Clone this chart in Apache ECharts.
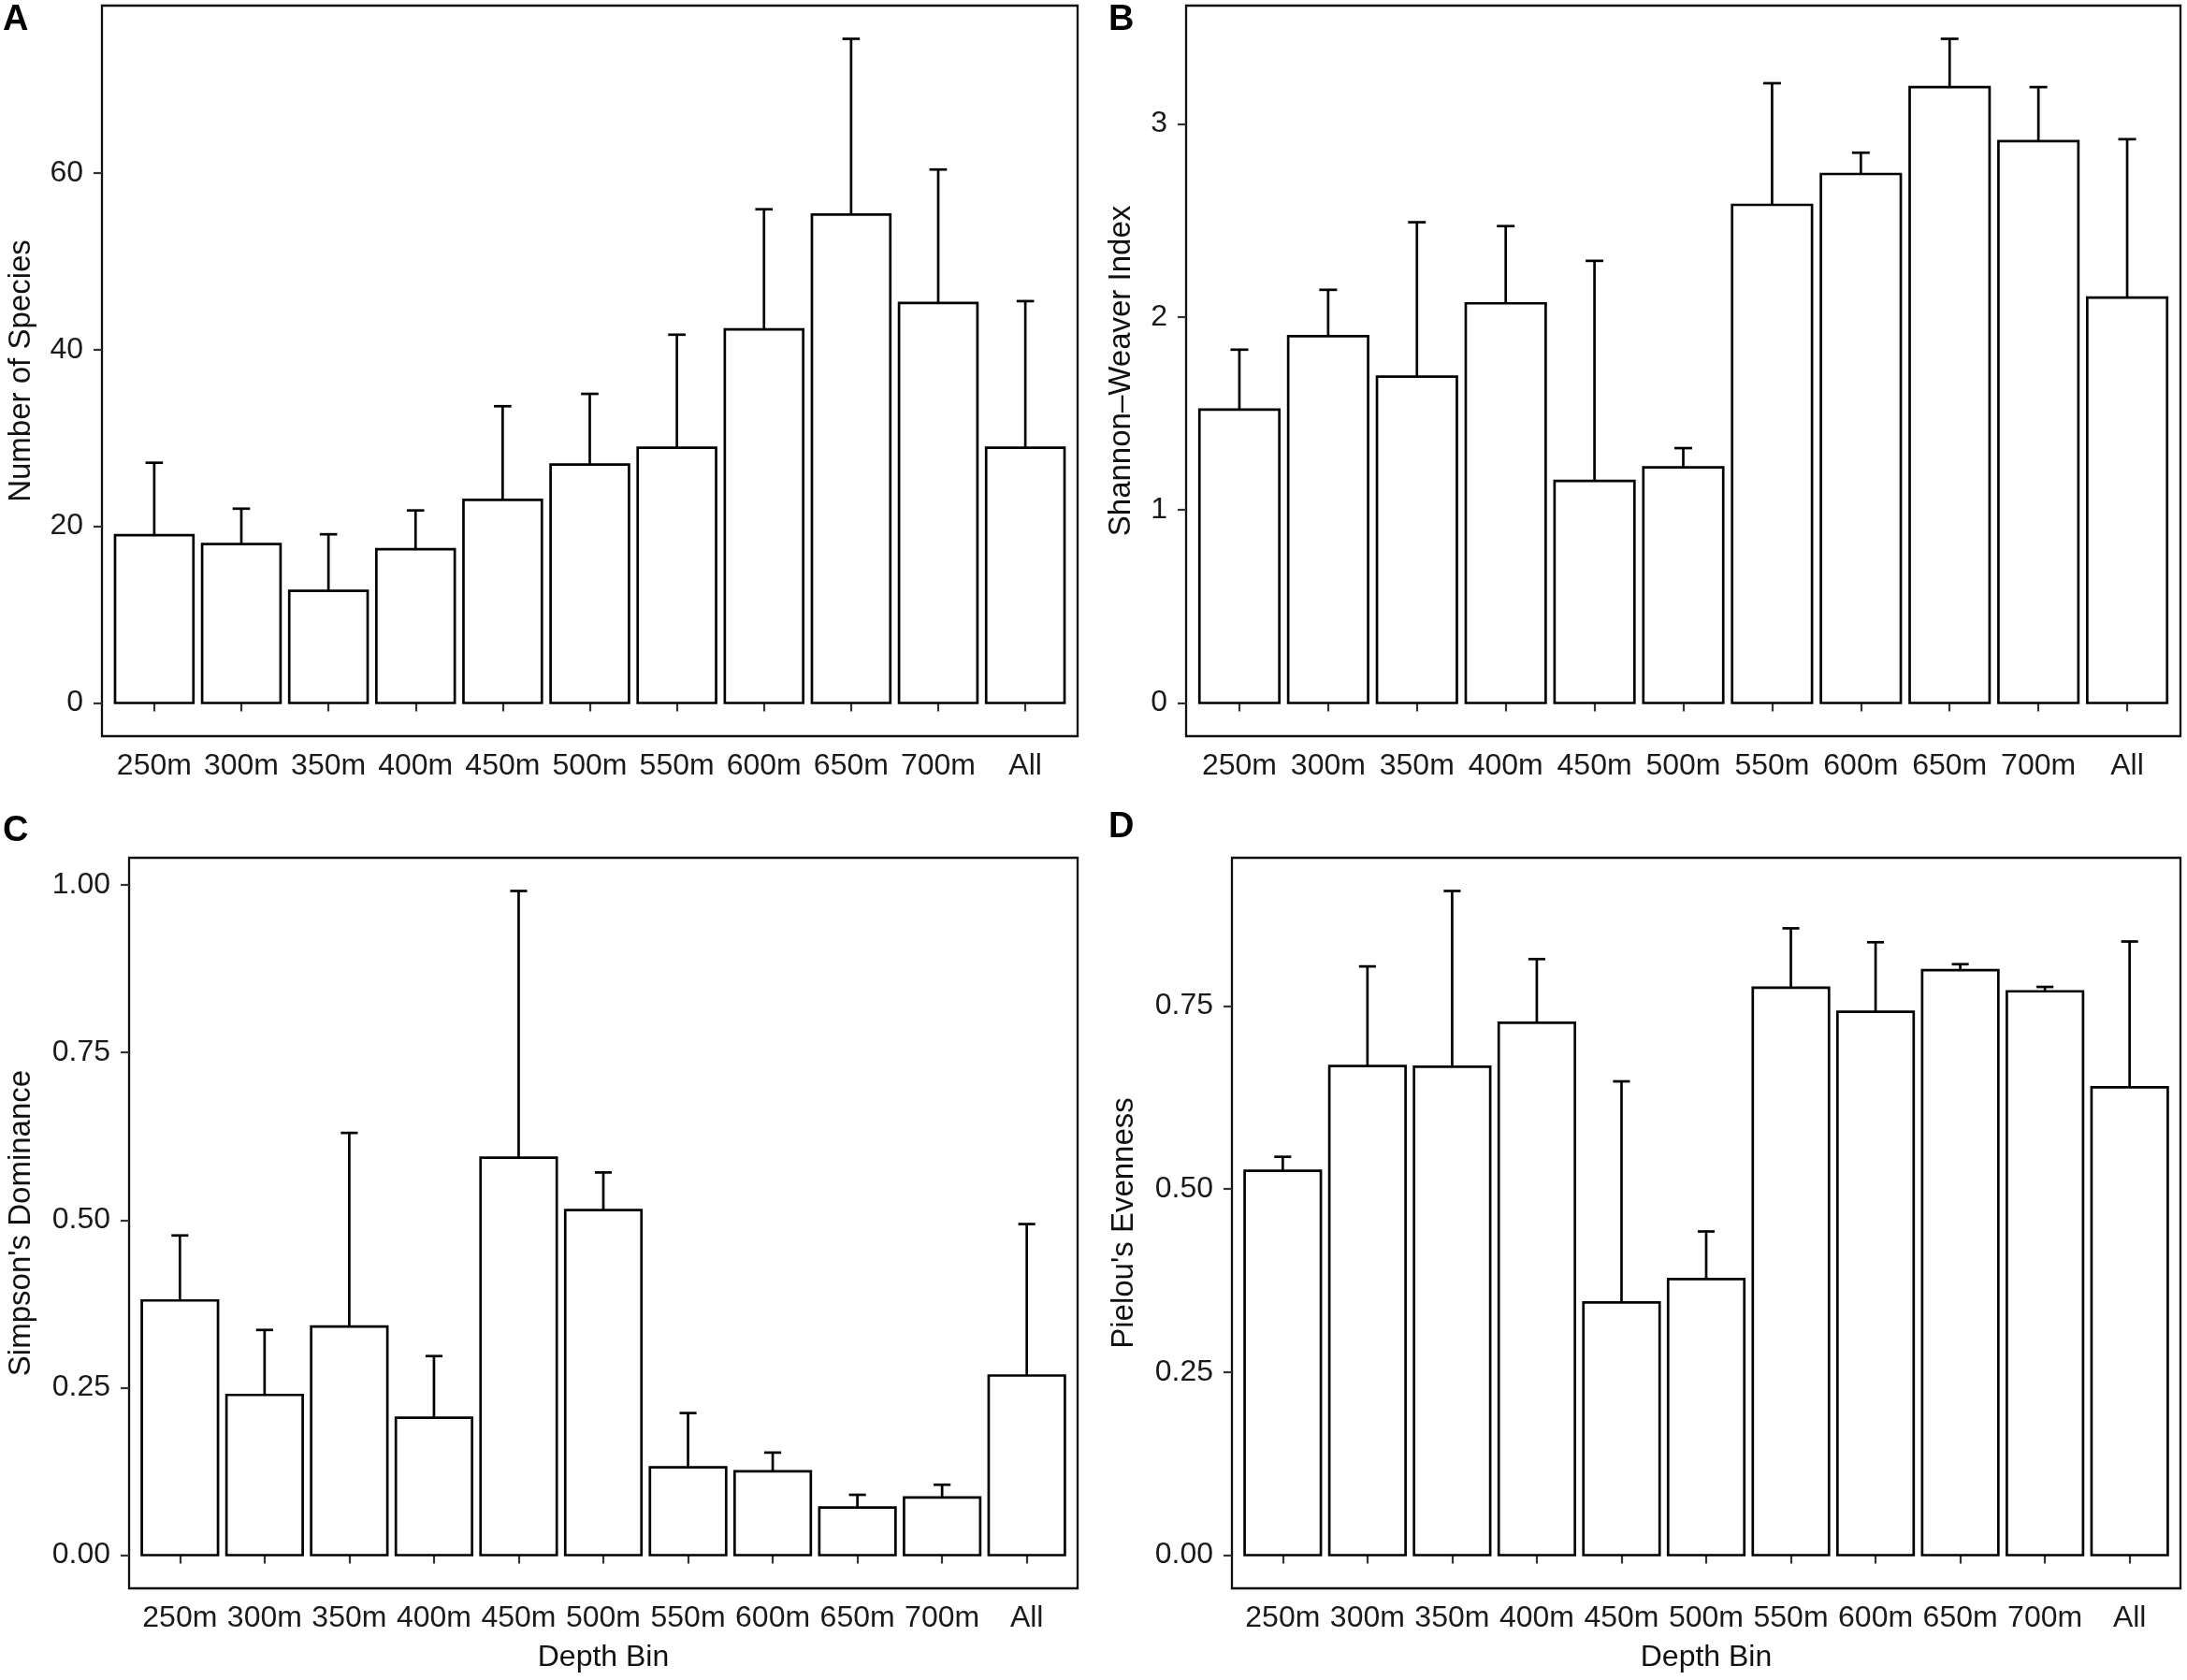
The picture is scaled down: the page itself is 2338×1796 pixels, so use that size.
<!DOCTYPE html>
<html>
<head>
<meta charset="utf-8">
<script src="https://cdn.jsdelivr.net/npm/echarts@6/dist/echarts.min.js"></script>
<style>
  html, body { margin: 0; padding: 0; background: #fff; }
  #chart { width: 2338px; height: 1796px; }
</style>
</head>
<body>
<div id="chart"></div>
<script>
// ---- data ----
const categories = ['250m','300m','350m','400m','450m','500m','550m','600m','650m','700m','All'];

const speciesMean  = [19.0, 18.0, 12.7, 17.4, 23.0, 27.0, 28.9, 42.3, 55.3, 45.3, 28.9];
const speciesUpper = [27.2, 22.0, 19.1, 21.8, 33.6, 35.0, 41.7, 55.9, 75.2, 60.4, 45.5];

const shannonMean  = [1.52, 1.90, 1.69, 2.07, 1.15, 1.22, 2.58, 2.74, 3.19, 2.91, 2.10];
const shannonUpper = [1.83, 2.14, 2.49, 2.47, 2.29, 1.32, 3.21, 2.85, 3.44, 3.19, 2.92];

const simpsonMean  = [0.380, 0.239, 0.341, 0.205, 0.593, 0.515, 0.131, 0.125, 0.071, 0.086, 0.268];
const simpsonUpper = [0.477, 0.336, 0.630, 0.297, 0.991, 0.571, 0.212, 0.153, 0.090, 0.105, 0.494];

const pielouMean   = [0.525, 0.668, 0.667, 0.727, 0.345, 0.377, 0.775, 0.742, 0.799, 0.770, 0.639];
const pielouUpper  = [0.544, 0.804, 0.907, 0.814, 0.647, 0.442, 0.856, 0.837, 0.807, 0.776, 0.838];

const speciesTicks = [0, 20, 40, 60];
const speciesTickLabels = ['0', '20', '40', '60'];
const shannonTicks = [0, 1, 2, 3];
const shannonTickLabels = ['0', '1', '2', '3'];
const simpsonTicks = [0, 0.25, 0.5, 0.75, 1.0];
const simpsonTickLabels = ['0.00', '0.25', '0.50', '0.75', '1.00'];
const pielouTicks = [0, 0.25, 0.5, 0.75];
const pielouTickLabels = ['0.00', '0.25', '0.50', '0.75'];

// ---- layout / style ----
const FONT = '"Liberation Sans", Arial, Helvetica, sans-serif';
const panels = [
  { label: 'A', mean: speciesMean, upper: speciesUpper, ticks: speciesTicks, tickLabels: speciesTickLabels,
    yTitle: 'Number of Species', xTitle: '', grid: { left: 109, top: 6, width: 1043, height: 781 },
    yNameGap: 70, labelPos: { left: 3, top: 3 } },
  { label: 'B', mean: shannonMean, upper: shannonUpper, ticks: shannonTicks, tickLabels: shannonTickLabels,
    yTitle: 'Shannon\u2013Weaver Index', xTitle: '', grid: { left: 1268, top: 6, width: 1063, height: 781 },
    yNameGap: 53, labelPos: { left: 1185, top: 3 } },
  { label: 'C', mean: simpsonMean, upper: simpsonUpper, ticks: simpsonTicks, tickLabels: simpsonTickLabels,
    yTitle: "Simpson's Dominance", xTitle: 'Depth Bin', grid: { left: 138, top: 917, width: 1014, height: 781 },
    yNameGap: 99, labelPos: { left: 3, top: 870 } },
  { label: 'D', mean: pielouMean, upper: pielouUpper, ticks: pielouTicks, tickLabels: pielouTickLabels,
    yTitle: "Pielou's Evenness", xTitle: 'Depth Bin', grid: { left: 1317, top: 917, width: 1014, height: 781 },
    yNameGap: 99, labelPos: { left: 1185, top: 866 } }
];

const catPositions = categories.map((c, i) => i + 1);

function renderBar(params, api) {
  const x = api.value(0), m = api.value(1), u = api.value(2);
  const bl = api.coord([x - 0.45, 0]);
  const tr = api.coord([x + 0.45, m]);
  const top = api.coord([x, m]);
  const et = api.coord([x, u]);
  const cl = api.coord([x - 0.1, u]);
  const cr = api.coord([x + 0.1, u]);
  const st = { stroke: '#000', lineWidth: 2.7 };
  return {
    type: 'group',
    children: [
      { type: 'line', shape: { x1: top[0], y1: top[1], x2: et[0], y2: et[1] }, style: st },
      { type: 'line', shape: { x1: cl[0], y1: cl[1], x2: cr[0], y2: cr[1] }, style: st },
      { type: 'rect', shape: { x: bl[0], y: tr[1], width: tr[0] - bl[0], height: bl[1] - tr[1] },
        style: { fill: '#fff', stroke: '#000', lineWidth: 2.7 } }
    ]
  };
}

const option = {
  backgroundColor: '#fff',
  animation: false,
  title: panels.map(p => ({
    text: p.label, left: p.labelPos.left, top: p.labelPos.top, padding: 0,
    textStyle: { fontFamily: FONT, fontWeight: 'bold', fontSize: 38, color: '#000' }
  })),
  grid: panels.map(p => ({
    left: p.grid.left, top: p.grid.top, width: p.grid.width, height: p.grid.height,
    show: true, borderColor: '#111', borderWidth: 2.3, backgroundColor: 'transparent',
    containLabel: false
  })),
  xAxis: panels.map((p, i) => ({
    type: 'value', gridIndex: i, min: 0.4, max: 11.6,
    name: p.xTitle, nameLocation: 'middle', nameGap: 58,
    nameTextStyle: { fontFamily: FONT, fontSize: 32, color: '#111' },
    axisLine: { show: false },
    splitLine: { show: false },
    axisTick: { show: true, customValues: catPositions, length: 9, inside: false,
      lineStyle: { color: '#333', width: 2.2 } },
    axisLabel: { show: true, customValues: catPositions, margin: 16,
      fontFamily: FONT, fontSize: 32, color: '#1a1a1a',
      formatter: v => categories[Math.round(v) - 1] }
  })),
  yAxis: panels.map((p, i) => {
    const hi = Math.max.apply(null, p.upper);
    const pad = 0.05 * hi;
    return {
      type: 'value', gridIndex: i, min: -pad, max: hi + pad,
      name: p.yTitle, nameLocation: 'middle', nameGap: p.yNameGap, nameRotate: 90,
      nameTextStyle: { fontFamily: FONT, fontSize: 33, color: '#111' },
      axisLine: { show: false },
      splitLine: { show: false },
      axisTick: { show: true, customValues: p.ticks, length: 9, inside: false,
        lineStyle: { color: '#333', width: 2.2 } },
      axisLabel: { show: true, customValues: p.ticks, margin: 20,
        fontFamily: FONT, fontSize: 32, color: '#1a1a1a',
        formatter: v => {
          const k = p.ticks.findIndex(t => Math.abs(t - v) < 1e-9);
          return k >= 0 ? p.tickLabels[k] : '';
        } }
    };
  }),
  series: panels.map((p, i) => ({
    type: 'custom', xAxisIndex: i, yAxisIndex: i,
    renderItem: renderBar,
    encode: { x: 0, y: [1, 2] },
    data: categories.map((c, k) => [k + 1, p.mean[k], p.upper[k]])
  }))
};

const chart = echarts.init(document.getElementById('chart'), null, { renderer: 'canvas', width: 2338, height: 1796 });
chart.setOption(option);
</script>
</body>
</html>
